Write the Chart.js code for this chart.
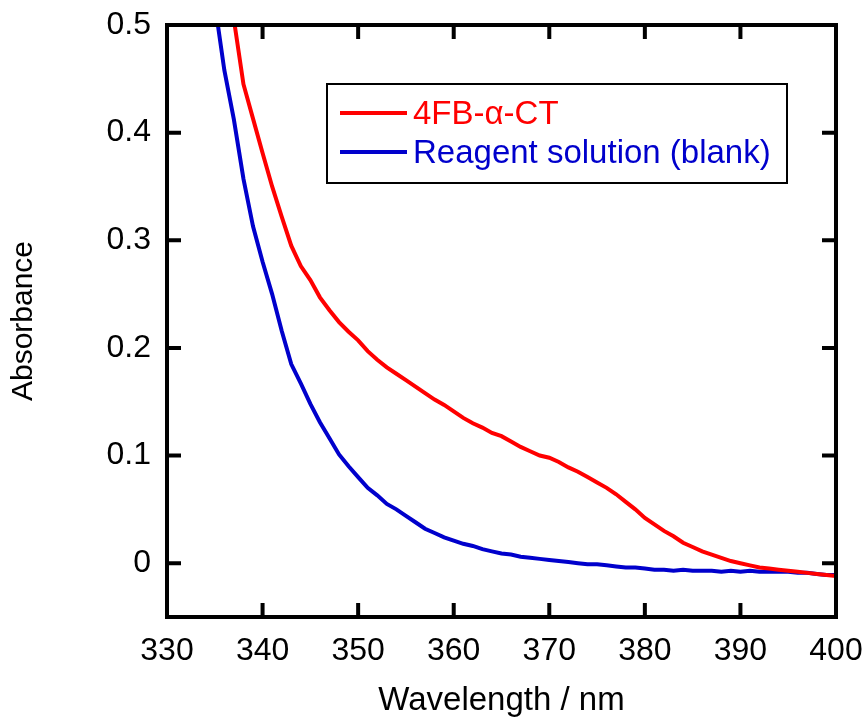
<!DOCTYPE html>
<html>
<head>
<meta charset="utf-8">
<script src="https://cdn.jsdelivr.net/npm/chart.js@4/dist/chart.umd.min.js"></script>
<style>
  html, body { margin: 0; padding: 0; background: #fff; }
  #wrap { width: 866px; height: 721px; }
</style>
</head>
<body>
<div id="wrap"><canvas id="specChart" width="866" height="721"></canvas></div>
<script>
// =========================
// Data
// =========================

const wavelengths = [
  334, 335, 336, 337, 338, 339, 340, 341, 342, 343, 344, 345, 346, 347, 348, 349,
  350, 351, 352, 353, 354, 355, 356, 357, 358, 359, 360, 361, 362, 363, 364, 365,
  366, 367, 368, 369, 370, 371, 372, 373, 374, 375, 376, 377, 378, 379, 380, 381,
  382, 383, 384, 385, 386, 387, 388, 389, 390, 391, 392, 393, 394, 395, 396, 397,
  398, 399, 400
];

const sampleLabel = "4FB-\u03b1-CT";
const sampleAbs = [
  null, null, 0.56, 0.505, 0.445, 0.413, 0.381, 0.350, 0.322, 0.295, 0.276, 0.263, 0.247, 0.235, 0.224, 0.215,
  0.207, 0.197, 0.189, 0.182, 0.176, 0.170, 0.164, 0.158, 0.152, 0.147, 0.141, 0.135, 0.130, 0.126, 0.121, 0.118,
  0.113, 0.108, 0.104, 0.100, 0.098, 0.094, 0.089, 0.085, 0.080, 0.075, 0.070, 0.064, 0.057, 0.050, 0.042, 0.036,
  0.030, 0.025, 0.019, 0.015, 0.011, 0.008, 0.005, 0.002, 0.000, -0.002, -0.004, -0.005, -0.006, -0.007, -0.008, -0.009,
  -0.010, -0.011, -0.012
];

const blankLabel = "Reagent solution (blank)";
const blankAbs = [
  0.58, 0.52, 0.458, 0.412, 0.357, 0.313, 0.280, 0.250, 0.216, 0.185, 0.167, 0.148, 0.131, 0.116, 0.101, 0.090,
  0.080, 0.070, 0.063, 0.055, 0.050, 0.044, 0.038, 0.032, 0.028, 0.024, 0.021, 0.018, 0.016, 0.013, 0.011, 0.009,
  0.008, 0.006, 0.005, 0.004, 0.003, 0.002, 0.001, 0.000, -0.001, -0.001, -0.002, -0.003, -0.004, -0.004, -0.005, -0.006,
  -0.006, -0.007, -0.006, -0.007, -0.007, -0.007, -0.008, -0.007, -0.008, -0.007, -0.008, -0.008, -0.008, -0.008, -0.009, -0.009,
  -0.010, -0.011, -0.011
];

const xTicks = [330, 340, 350, 360, 370, 380, 390, 400];
const yTicks = [0, 0.1, 0.2, 0.3, 0.4, 0.5];

const FONT = "'Liberation Sans', Arial, sans-serif";

function toPoints(values) {
  return wavelengths.map((w, i) => ({ x: w, y: values[i] }));
}

// no label overflow padding: the layout padding alone places the plot
function noOverflow(scale) {
  scale.paddingTop = 0;
  scale.paddingBottom = 0;
  scale.paddingLeft = 0;
  scale.paddingRight = 0;
}

// =========================
// Frame, inward ticks, legend
// =========================

const framePlugin = {
  id: "frame",
  afterDraw(chart) {
    const { ctx, chartArea: a } = chart;
    const xs = chart.scales.x;
    const ys = chart.scales.y;
    const len = 14;

    ctx.save();
    ctx.strokeStyle = "#000";
    ctx.lineWidth = 4;
    ctx.lineCap = "butt";

    ctx.beginPath();
    xTicks.forEach((v) => {
      const px = xs.getPixelForValue(v);
      ctx.moveTo(px, a.bottom);
      ctx.lineTo(px, a.bottom - len);
      ctx.moveTo(px, a.top);
      ctx.lineTo(px, a.top + len);
    });
    yTicks.forEach((v) => {
      const py = ys.getPixelForValue(v);
      ctx.moveTo(a.left, py);
      ctx.lineTo(a.left + len, py);
      ctx.moveTo(a.right, py);
      ctx.lineTo(a.right - len, py);
    });
    ctx.stroke();

    ctx.strokeRect(a.left, a.top, a.right - a.left, a.bottom - a.top);

    // legend box
    const box = { left: 327, top: 84, right: 787, bottom: 183 };
    ctx.lineWidth = 2;
    ctx.strokeRect(box.left, box.top, box.right - box.left, box.bottom - box.top);

    const rows = [113, 152];
    ctx.font = "33px " + FONT;
    ctx.textBaseline = "middle";
    ctx.textAlign = "left";
    chart.data.datasets.forEach((ds, i) => {
      const y = rows[i];
      ctx.strokeStyle = ds.borderColor;
      ctx.lineWidth = 4;
      ctx.beginPath();
      ctx.moveTo(340, y);
      ctx.lineTo(407, y);
      ctx.stroke();
      ctx.fillStyle = ds.borderColor;
      ctx.fillText(ds.label, 413, y + 2);
    });
    ctx.restore();
  },
};

// =========================
// Chart
// =========================

new Chart(document.getElementById("specChart"), {
  type: "line",
  data: {
    datasets: [
      {
        label: sampleLabel,
        data: toPoints(sampleAbs),
        borderColor: "#ff0000",
        borderWidth: 4,
        pointRadius: 0,
        tension: 0,
      },
      {
        label: blankLabel,
        data: toPoints(blankAbs),
        borderColor: "#0000cc",
        borderWidth: 4,
        pointRadius: 0,
        tension: 0,
      },
    ],
  },
  options: {
    responsive: false,
    animation: false,
    devicePixelRatio: 1,
    layout: { padding: { top: 25, right: 30, left: 0, bottom: 0 } },
    plugins: {
      legend: { display: false },
      tooltip: { enabled: false },
    },
    scales: {
      x: {
        type: "linear",
        min: 330,
        max: 400,
        afterFit: (scale) => { scale.height = 104; noOverflow(scale); },
        afterBuildTicks: (scale) => { scale.ticks = xTicks.map((v) => ({ value: v })); },
        grid: { display: false, drawTicks: false },
        border: { display: false },
        ticks: {
          color: "#000",
          padding: 15,
          maxRotation: 0,
          font: { family: FONT, size: 32 },
          callback: (v) => String(v),
        },
        title: {
          display: true,
          text: "Wavelength / nm",
          color: "#000",
          padding: { top: 0, bottom: 0 },
          font: { family: FONT, size: 33 },
        },
      },
      y: {
        type: "linear",
        min: -0.05,
        max: 0.5,
        afterFit: (scale) => { scale.width = 167; noOverflow(scale); },
        afterBuildTicks: (scale) => { scale.ticks = yTicks.map((v) => ({ value: v })); },
        grid: { display: false, drawTicks: false },
        border: { display: false },
        ticks: {
          color: "#000",
          padding: 16,
          font: { family: FONT, size: 32 },
          callback: (v) => String(v),
        },
        title: {
          display: true,
          text: "Absorbance",
          color: "#000",
          padding: { top: 6, bottom: 0 },
          font: { family: FONT, size: 30 },
        },
      },
    },
  },
  plugins: [framePlugin],
});
</script>
</body>
</html>
